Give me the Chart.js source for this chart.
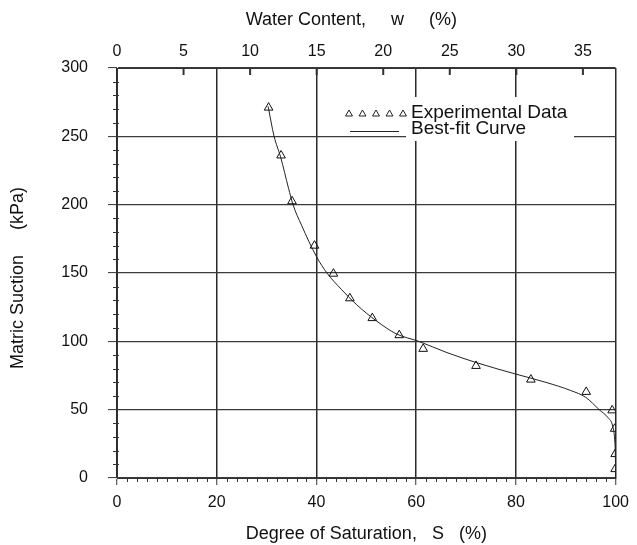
<!DOCTYPE html>
<html>
<head>
<meta charset="utf-8">
<script src="https://cdn.jsdelivr.net/npm/chart.js@4.4.0/dist/chart.umd.min.js"></script>
<style>
body { margin: 0; background: #fff; }
</style>
</head>
<body>
<canvas id="swcc" width="637" height="545"></canvas>
<script>
// experimental points: degree of saturation S (%) and matric suction (kPa)
const satPoints = [30.4, 32.9, 35.1, 39.6, 43.4, 46.7, 51.2, 56.6, 61.4, 72.0, 83.0, 94.1, 99.3, 99.8, 99.9, 99.9];
const suctionPoints = [271, 236, 202.5, 170, 149.5, 131.5, 117, 104.5, 94.5, 82, 72, 63, 49.5, 36, 17.5, 6.5];

// best-fit curve
const satCurve = [30.3, 31.5, 32.8, 34.4, 35.3, 37.0, 40.0, 42.1, 45.0, 48.0, 52.0, 56.0, 60.5, 66.0, 72.0, 80.0, 86.0, 91.0, 94.0, 96.7, 98.5, 99.4, 99.8, 99.95, 100];
const suctionCurve = [272, 250, 235, 212, 200, 185, 162, 150, 138, 127, 115, 105.5, 100, 92, 84.5, 76, 70, 64, 59, 50, 44, 38, 28, 15, 0];

const satTicks = [0, 20, 40, 60, 80, 100];
const suctionTicks = [0, 50, 100, 150, 200, 250, 300];
const waterTicks = [0, 5, 10, 15, 20, 25, 30, 35];
const waterMax = 37.46; // w at S = 100 %

const FONT = '"Liberation Sans", Arial, Helvetica, sans-serif';
const INK = '#111';

function triangle(ctx, x, y, r) {
    ctx.beginPath();
    ctx.moveTo(x, y - r);
    ctx.lineTo(x + r * 0.866, y + r / 2);
    ctx.lineTo(x - r * 0.866, y + r / 2);
    ctx.closePath();
    ctx.stroke();
}

// small ticks on the frame (every 10 kPa, every 2 %, and the w marks)
const frameTicks = {
    id: 'frameTicks',
    beforeDatasetsDraw(chart) {
        const { ctx, chartArea: a } = chart;
        const { x, x2, y } = chart.scales;
        ctx.save();
        ctx.strokeStyle = '#333';
        ctx.lineWidth = 1;
        ctx.beginPath();
        for (let v = 10; v < 300; v += 10) {
            if (v % 50 === 0) continue;
            const py = Math.round(y.getPixelForValue(v)) + 0.5;
            ctx.moveTo(a.left - 4, py);
            ctx.lineTo(a.left + 2, py);
        }
        for (let s = 2; s < 100; s += 2) {
            if (s % 20 === 0) continue;
            const px = Math.round(x.getPixelForValue(s)) + 0.5;
            ctx.moveTo(px, a.bottom);
            ctx.lineTo(px, a.bottom + 4);
        }
        ctx.stroke();
        ctx.lineWidth = 2;
        ctx.beginPath();
        waterTicks.forEach(w => {
            if (w === 0) return;
            const px = x2.getPixelForValue(w);
            ctx.moveTo(px, a.top);
            ctx.lineTo(px, a.top + 7);
        });
        ctx.stroke();
        ctx.restore();
    }
};

// axis titles (the originals sit a little off centre, so drawn here)
const axisTitles = {
    id: 'axisTitles',
    afterDraw(chart) {
        const { ctx, chartArea: a } = chart;
        const cx = (a.left + a.right) / 2;
        ctx.save();
        ctx.fillStyle = INK;
        ctx.font = '18px ' + FONT;
        ctx.textAlign = 'center';
        ctx.textBaseline = 'middle';
        ctx.fillText('Water Content,     w     (%)', cx - 15, 20);
        ctx.fillText('Degree of Saturation,   S   (%)', cx, 534);
        ctx.translate(18, (a.top + a.bottom) / 2 + 5);
        ctx.rotate(-Math.PI / 2);
        ctx.fillText('Matric Suction     (kPa)', 0, 0);
        ctx.restore();
    }
};

// legend in the upper right, on a white patch over the grid
const legendBox = {
    id: 'legendBox',
    afterDatasetsDraw(chart) {
        const ctx = chart.ctx;
        ctx.save();
        ctx.fillStyle = '#fff';
        ctx.fillRect(406, 97, 168, 44);
        ctx.strokeStyle = '#222';
        ctx.lineWidth = 1;
        for (let i = 0; i < 5; i++) triangle(ctx, 349 + i * 13.5, 114, 4);
        ctx.beginPath();
        ctx.moveTo(350, 131.5);
        ctx.lineTo(399, 131.5);
        ctx.stroke();
        ctx.fillStyle = INK;
        ctx.font = '19px ' + FONT;
        ctx.textBaseline = 'middle';
        ctx.fillText('Experimental Data', 411, 113);
        ctx.fillText('Best-fit Curve', 411, 129);
        ctx.restore();
    }
};

const ctx = document.getElementById('swcc').getContext('2d');

new Chart(ctx, {
    type: 'scatter',
    data: {
        datasets: [
            {
                label: 'Best-fit Curve',
                data: satCurve.map((s, i) => ({ x: s, y: suctionCurve[i] })),
                showLine: true,
                borderColor: '#222',
                borderWidth: 1,
                pointRadius: 0,
                cubicInterpolationMode: 'monotone',
                xAxisID: 'x'
            },
            {
                label: 'Experimental Data',
                data: satPoints.map((s, i) => ({ x: s, y: suctionPoints[i] })),
                pointStyle: 'triangle',
                pointRadius: 5,
                borderColor: '#111',
                borderWidth: 1,
                backgroundColor: 'rgba(255,255,255,0)',
                xAxisID: 'x'
            }
        ]
    },
    options: {
        responsive: false,
        animation: false,
        layout: { padding: { left: 0, right: 18, top: 0, bottom: 0 } },
        plugins: {
            legend: { display: false },
            tooltip: { enabled: false }
        },
        scales: {
            x: {
                type: 'linear',
                position: 'bottom',
                min: 0,
                max: 100,
                afterBuildTicks: s => { s.ticks = satTicks.map(v => ({ value: v })); },
                afterFit: s => { s.height = 67; },
                grid: { color: '#2a2a2a', lineWidth: 1.5, tickLength: 7, tickColor: '#333', tickWidth: 1 },
                border: { color: '#333', width: 1 },
                ticks: { color: INK, font: { family: FONT, size: 16 }, padding: 8, maxRotation: 0 }
            },
            x2: {
                type: 'linear',
                position: 'top',
                min: 0,
                max: waterMax,
                afterBuildTicks: s => { s.ticks = waterTicks.map(v => ({ value: v })); },
                afterFit: s => { s.height = 68; },
                grid: { drawOnChartArea: false, drawTicks: false },
                border: { color: '#333', width: 1 },
                ticks: { color: INK, font: { family: FONT, size: 16 }, padding: 7, maxRotation: 0 }
            },
            y: {
                type: 'linear',
                min: 0,
                max: 300,
                afterBuildTicks: s => { s.ticks = suctionTicks.map(v => ({ value: v })); },
                afterFit: s => { s.width = 117; },
                grid: { color: '#3a3a3a', lineWidth: 1.2, tickLength: 9, tickColor: '#333', tickWidth: 1 },
                border: { color: '#333', width: 1 },
                ticks: { color: INK, font: { family: FONT, size: 16 }, padding: 20 }
            }
        }
    },
    plugins: [frameTicks, legendBox, axisTitles]
});
</script>
</body>
</html>
